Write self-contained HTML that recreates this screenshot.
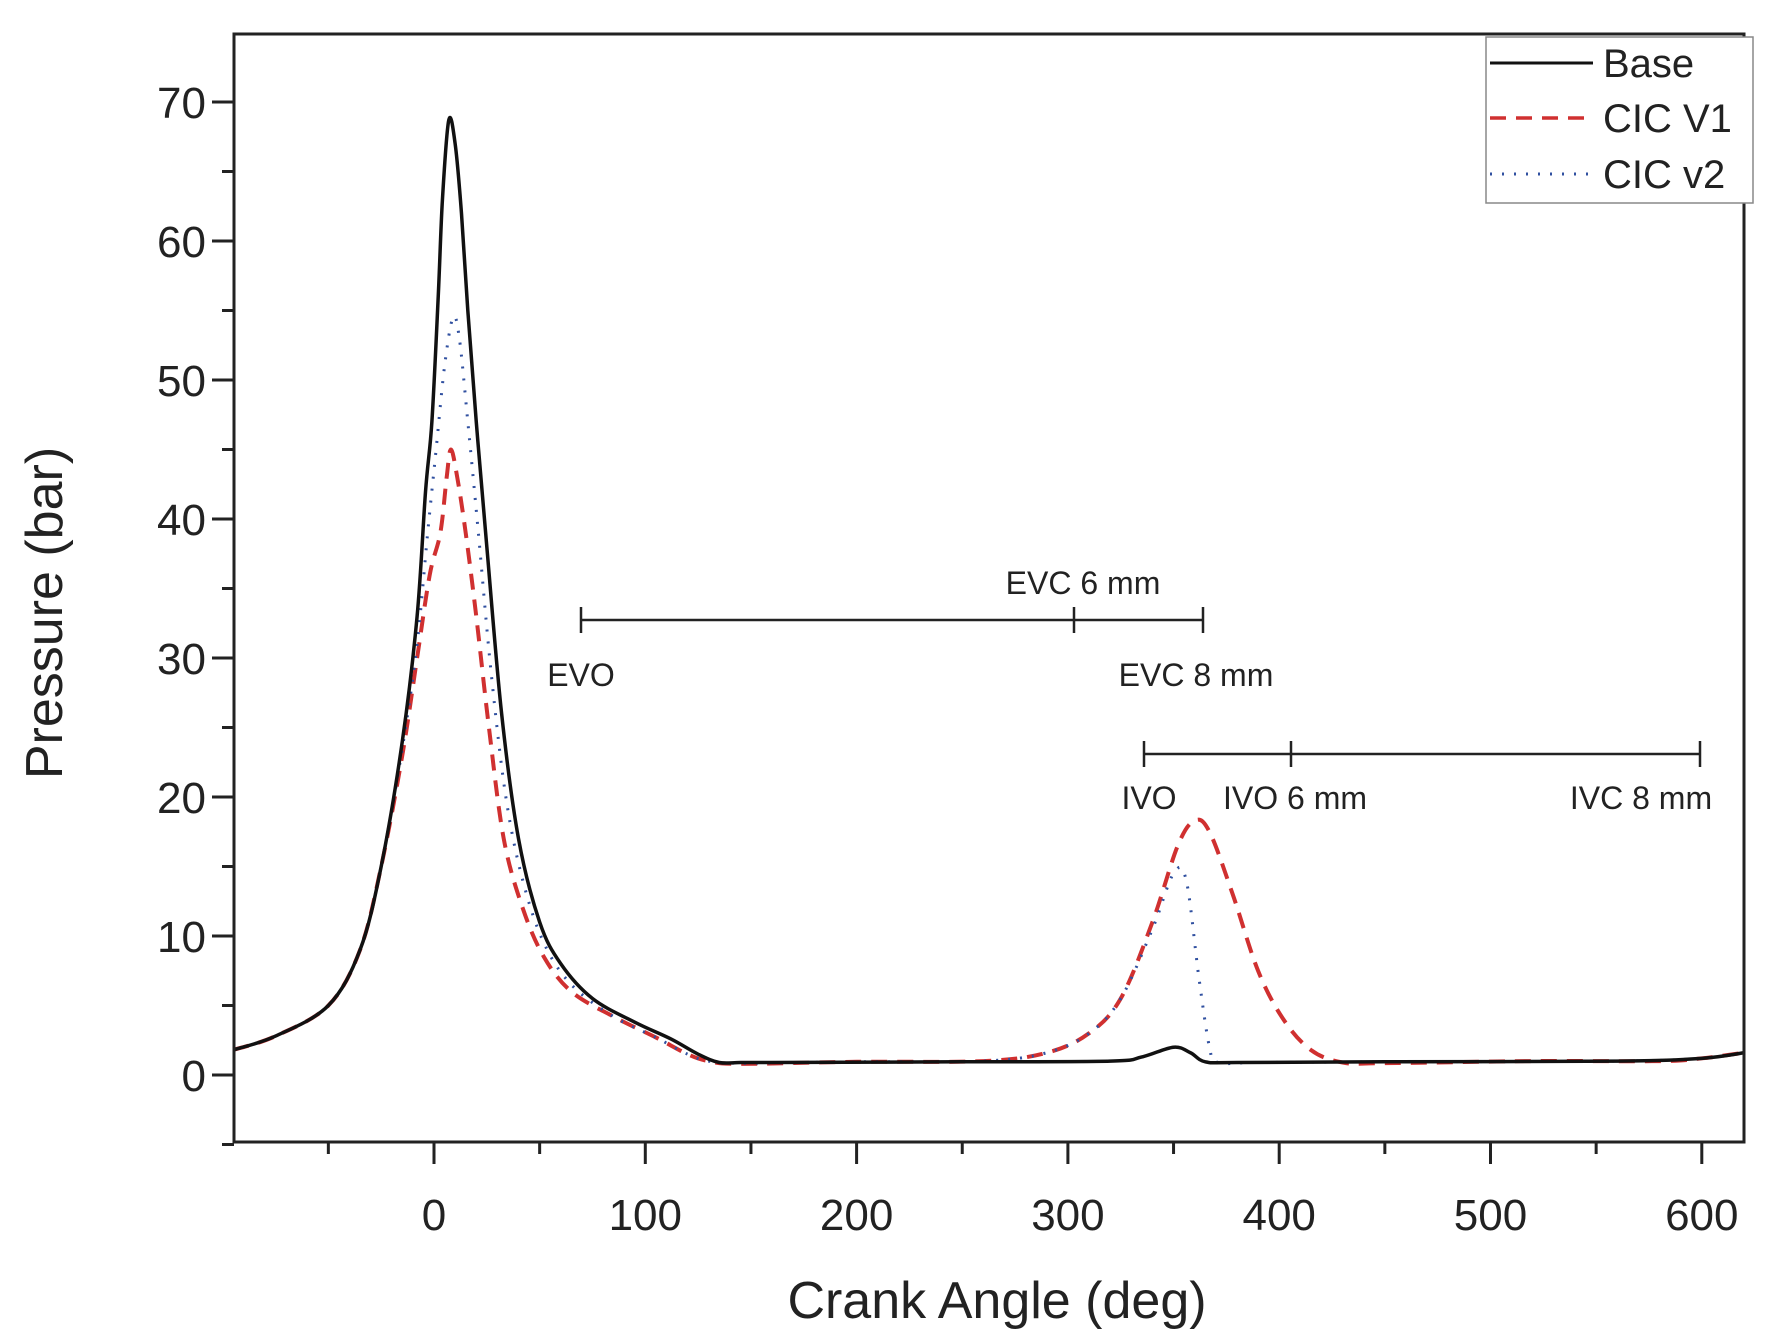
<!DOCTYPE html>
<html><head><meta charset="utf-8"><style>
html,body{margin:0;padding:0;background:#fff;}
svg{display:block;font-family:"Liberation Sans",Arial,sans-serif;}
</style></head><body>
<svg id="s" width="1780" height="1336" viewBox="0 0 1780 1336" xmlns="http://www.w3.org/2000/svg">
<rect width="1780" height="1336" fill="#fff"/>
<g id="curves" fill="none"></g>
<rect x="234" y="34" width="1510" height="1108" fill="none" stroke="#222" stroke-width="3"/>
<g id="ticks" stroke="#222" stroke-width="3"></g>
<g id="labels" font-size="44" fill="#222"></g>
<text x="997" y="1318" font-size="52" text-anchor="middle" fill="#222">Crank Angle (deg)</text>
<text transform="translate(62,613) rotate(-90)" font-size="52" text-anchor="middle" fill="#222">Pressure (bar)</text>
<g stroke="#222" stroke-width="2.5">
<line x1="581" y1="620" x2="1203" y2="620"/>
<line x1="581" y1="607" x2="581" y2="633"/>
<line x1="1074" y1="607" x2="1074" y2="633"/>
<line x1="1203" y1="607" x2="1203" y2="633"/>
<line x1="1144" y1="754" x2="1700" y2="754"/>
<line x1="1144" y1="741" x2="1144" y2="767"/>
<line x1="1291" y1="741" x2="1291" y2="767"/>
<line x1="1700" y1="741" x2="1700" y2="767"/>
</g>
<g font-size="32" fill="#222" text-anchor="middle">
<text x="1083" y="594">EVC 6 mm</text>
<text x="581" y="686">EVO</text>
<text x="1196" y="686">EVC 8 mm</text>
<text x="1149" y="809">IVO</text>
<text x="1295" y="809">IVO 6 mm</text>
<text x="1641" y="809">IVC 8 mm</text>
</g>
<rect x="1486" y="37" width="267" height="166" fill="#fff" stroke="#888" stroke-width="1.5"/>
<line x1="1490" y1="63" x2="1593" y2="63" stroke="#111" stroke-width="3"/>
<line x1="1490" y1="118" x2="1593" y2="118" stroke="#d03030" stroke-width="3.5" stroke-dasharray="16,10"/>
<line x1="1490" y1="174" x2="1593" y2="174" stroke="#3050a0" stroke-width="3" stroke-dasharray="2,10"/>
<g font-size="40" fill="#222">
<text x="1603" y="77">Base</text>
<text x="1603" y="132">CIC V1</text>
<text x="1603" y="188">CIC v2</text>
</g>
</svg>
<script>
var X=a=>434+2.113*a, Y=p=>1075-13.9*p;
var ns="http://www.w3.org/2000/svg";
function el(t,at,par){var e=document.createElementNS(ns,t);for(var k in at)e.setAttribute(k,at[k]);document.getElementById(par).appendChild(e);return e;}
function path(pts){var P=pts.map(p=>[X(p[0]),Y(p[1])]);var d="M"+P[0][0]+","+P[0][1];
for(var i=0;i<P.length-1;i++){var p0=P[Math.max(0,i-1)],p1=P[i],p2=P[i+1],p3=P[Math.min(P.length-1,i+2)];
d+=" C"+(p1[0]+(p2[0]-p0[0])/6)+","+(p1[1]+(p2[1]-p0[1])/6)+" "+(p2[0]-(p3[0]-p1[0])/6)+","+(p2[1]-(p3[1]-p1[1])/6)+" "+p2[0]+","+p2[1];}return d;}
var tail=[[160,0.9],[250,0.95],[320,1],[335,1.3],[350,2],[358,1.6],[365,0.95],[380,0.9],[450,0.95],[560,1],[600,1.2],[620,1.6]];
var base=[[-95,1.8],[-75,2.8],[-50,5],[-35,9],[-25,15],[-15,24],[-8,33],[-4,42],[-1,47],[2,56],[4,63],[7,68.7],[10,67],[13,62],[16,55],[20,47],[25,38],[32,26],[40,17],[50,11],[60,8],[75,5.5],[95,3.8],[112,2.6],[125,1.5],[135,0.9],[145,0.9]].concat(tail);
var v1=[[-95,1.8],[-75,2.8],[-50,5],[-35,9],[-25,15],[-15,23],[-8,30],[-2,36],[3,39],[6,43],[8,45],[11,43],[15,39],[20,33],[26,25],[33,17],[42,12],[52,8.5],[65,6],[85,4.2],[105,2.7],[120,1.5],[130,1],[145,0.8],[200,0.95],[260,1],[290,1.6],[310,3],[325,5.5],[340,11],[352,16.5],[360,18.3],[367,17.5],[378,13],[390,7.5],[402,4],[415,1.8],[430,0.9],[450,0.85],[520,1],[580,1],[600,1.2],[620,1.6]];
var v2=[[-95,1.8],[-75,2.8],[-50,5],[-35,9],[-25,15],[-15,23.5],[-8,31],[-3,39],[1,45],[5,51],[9,54.5],[12,53],[16,47],[21,39],[27,29],[34,20],[42,14],[52,9.5],[65,6.5],[85,4.2],[105,2.7],[120,1.5],[130,1],[145,0.85],[200,0.95],[260,1],[290,1.6],[310,3],[325,5.5],[340,10.5],[350,14.5],[356,14],[362,7],[367,2],[371,0.9],[390,0.9],[450,0.95],[560,1],[600,1.2],[620,1.6]];
el("path",{d:path(v1),stroke:"#d03030","stroke-width":4,"stroke-dasharray":"16,10"},"curves");
el("path",{d:path(v2),stroke:"#3050a0","stroke-width":3,"stroke-dasharray":"2,10"},"curves");
el("path",{d:path(base),stroke:"#111","stroke-width":3.5},"curves");
for(var a=-50;a<=600;a+=50){var x=X(a),big=a%100==0;el("line",{x1:x,y1:1142,x2:x,y2:1142+(big?22:12)},"ticks");
if(big){var t=el("text",{x:x,y:1230,"text-anchor":"middle"},"labels");t.textContent=a;}}
for(var p=-5;p<=70;p+=5){var y=Y(p),big=p%10==0;el("line",{x1:234,y1:y,x2:234-(big?22:12),y2:y},"ticks");
if(big){var t=el("text",{x:206,y:y+16,"text-anchor":"end"},"labels");t.textContent=p;}}
</script>
</body></html>
